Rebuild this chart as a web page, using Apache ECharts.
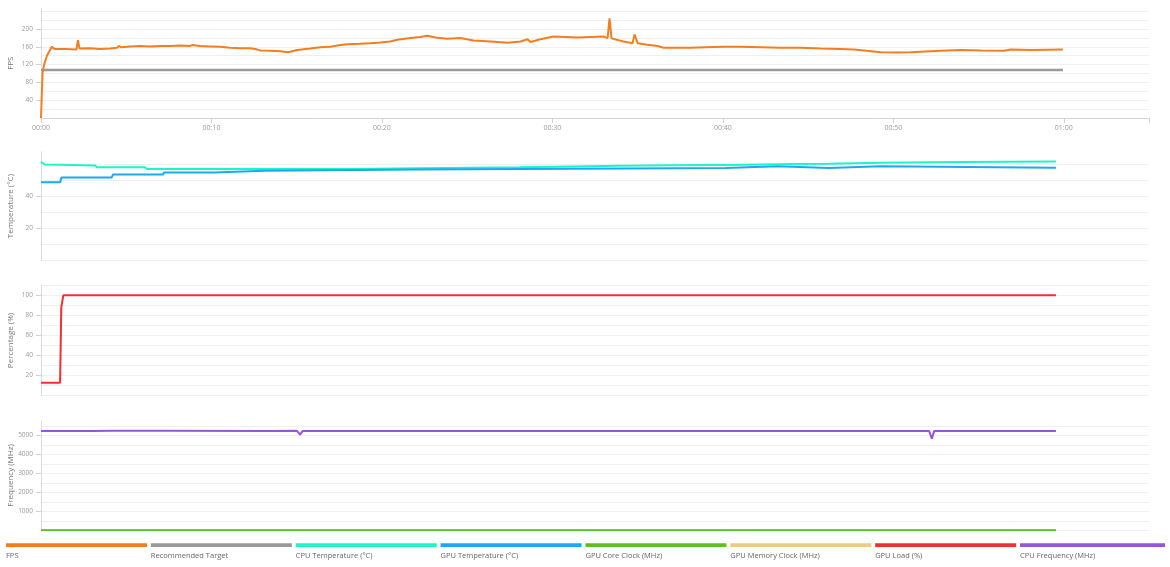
<!DOCTYPE html>
<html><head><meta charset="utf-8">
<script src="https://cdn.jsdelivr.net/npm/echarts@6/dist/echarts.min.js"></script>
<style>html,body{margin:0;padding:0;background:#fff}#c{width:1170px;height:567px}</style>
</head><body><div id="c"></div>
<script>
// ---- data (time in minutes, value) ----
const legendNames = ['FPS','Recommended Target','CPU Temperature (°C)','GPU Temperature (°C)','GPU Core Clock (MHz)','GPU Memory Clock (MHz)','GPU Load (%)','CPU Frequency (MHz)'];
const xTickLabels = ['00:00','00:10','00:20','00:30','00:40','00:50','01:00'];
const fpsTickLabels = [40,80,120,160,200];
const tempTickLabels = [20,40];
const pctTickLabels = [20,40,60,80,100];
const freqTickLabels = [1000,2000,3000,4000,5000];

const fpsData = [[0,0],[0.09,101],[0.19,121],[0.35,140],[0.63,160],[0.82,155],[1.41,155],[2.08,154],[2.17,175],[2.26,156],[2.88,157],[3.46,155],[4.05,156],[4.46,158],[4.58,162],[4.7,159],[5.23,161],[5.81,162],[6.4,161],[6.99,162],[7.57,162],[8.16,163],[8.75,162],[8.87,164],[9.34,162],[9.92,161],[10.51,160],[11.1,158],[11.69,157],[12.27,157],[12.57,155],[12.86,152],[13.45,151],[14.03,150],[14.5,148],[15.03,153],[15.79,156],[16.38,159],[16.97,160],[17.56,164],[17.97,166],[18.73,167],[19.32,168],[19.91,170],[20.49,172],[20.9,176],[21.67,180],[22.25,182],[22.66,185],[23.14,181],[23.84,178],[24.6,180],[25.37,174],[26.37,172],[27.36,169],[28.13,172],[28.54,177],[28.71,171],[29.3,177],[30.06,183],[30.77,182],[31.47,181],[32.24,182],[33.0,183],[33.24,180],[33.35,224],[33.47,179],[34.17,172],[34.7,168],[34.82,188],[35.0,168],[35.47,165],[36.17,162],[36.52,158],[37.52,158],[38.11,158],[38.99,159],[40.05,160],[41.04,160],[42.22,159],[43.39,158],[44.57,158],[45.74,156],[46.92,155],[47.68,154],[48.44,151],[49.27,148],[50.26,147],[51.03,148],[51.61,149],[52.79,151],[53.96,153],[55.14,152],[56.49,151],[56.9,154],[58.07,153],[59.95,154]];
const targetData = [[0,108],[59.95,108]];
const cpuTempData = [[0,61.7],[0.23,60.1],[1.17,60.0],[1.23,59.5],[3.17,59.5],[3.29,58.3],[6.1,58.3],[6.22,57.3],[18.1,57.3],[18.2,57.7],[22.2,57.8],[22.3,58.2],[28.1,58.3],[28.2,59.0],[34,59.3],[38.7,59.7],[40.16,59.8],[40.22,60.2],[43.22,60.2],[43.28,60.6],[46.21,60.6],[46.27,61.1],[49.27,61.2],[49.32,61.5],[54,61.7],[59.54,61.9]];
const gpuTempData = [[0,48.9],[1.12,48.9],[1.2,52.0],[4.15,52.0],[4.22,53.8],[7.16,53.8],[7.22,55.1],[10.16,55.1],[10.22,56.1],[13.1,56.1],[13.2,57.0],[22.14,57.0],[22.2,57.9],[40.16,57.9],[40.22,59.0],[43.22,59.0],[43.28,57.9],[46.21,57.9],[46.27,59.0],[49.27,59.0],[49.33,58.0],[59.54,58.0]];
const gpuCoreClockData = [[0,0],[59.54,0]];
const gpuMemClockData = [[0,0],[59.54,0]];
const gpuLoadData = [[0,13],[1.12,13],[1.19,88],[1.31,100],[59.54,100]];
const cpuFreqData = [[0,5245],[3.0,5245],[4.2,5258],[7.2,5258],[7.3,5245],[13.2,5245],[13.3,5258],[15.0,5258],[15.2,5050],[15.35,5245],[22.1,5245],[22.2,5175],[22.3,5245],[52.1,5245],[52.26,4840],[52.4,5245],[59.54,5245]];

// ---- styles ----
const colors = ['#f47d20','#9a9a9a','#1cf5c6','#1da8f3','#5cbf26','#ebcb85','#ee3030','#9656d6'];
const FONT = '"Open Sans", sans-serif';
const gridBoxes = [{top:8.4,height:109.6},{top:151.7,height:108.8},{top:285.3,height:110.4},{top:420.7,height:109.6}];
const maxOf = arrs => Math.max(...arrs.flat().map(p => p[1])) * 1.1;

const chart = echarts.init(document.getElementById('c'), null, {renderer:'canvas'});

function yAxesFor(g, max, step, labels, name) {
  return [
    {type:'value', gridIndex:g, min:0, max:max, interval:step, position:'left',
     axisLine:{show:false}, axisTick:{show:false}, axisLabel:{show:false},
     splitLine:{show:true, showMaxLine:false, lineStyle:{color:'#efefef', width:1}}},
    {type:'value', gridIndex:g, min:0, max:max, position:'left',
     name:name, nameLocation:'middle', nameGap:26, nameRotate:90, nameMoveOverlap:false,
     nameTextStyle:{fontFamily:FONT, fontSize:8, color:'#777'},
     axisLine:{show:true, lineStyle:{color:'#dcdcdc', width:1}},
     axisTick:{show:true, customValues:labels, length:5, lineStyle:{color:'#cfcfcf'}},
     axisLabel:{customValues:labels, fontFamily:FONT, fontSize:6.5, color:'#999', margin:8,
       formatter: v => String(v)},
     splitLine:{show:false}}
  ];
}

const yAxes = [].concat(
  yAxesFor(0, maxOf([fpsData,targetData]), 20, fpsTickLabels, 'FPS'),
  yAxesFor(1, maxOf([cpuTempData,gpuTempData]), 10, tempTickLabels, 'Temperature (°C)'),
  yAxesFor(2, maxOf([gpuLoadData]), 10, pctTickLabels, 'Percentage (%)'),
  yAxesFor(3, maxOf([cpuFreqData,gpuCoreClockData,gpuMemClockData]), 500, freqTickLabels, 'Frequency (MHz)')
);

const xAxes = gridBoxes.map((b, g) => ({
  type:'value', gridIndex:g, min:0, max:65, interval:10,
  show: g === 0,
  axisLine:{show:true, lineStyle:{color:'#d3d3d3'}},
  axisTick:{show:true, length:5, lineStyle:{color:'#d3d3d3'}},
  axisLabel:{fontFamily:FONT, fontSize:7, color:'#999', margin:6,
    formatter: v => (v % 10 === 0 && xTickLabels[v/10]) ? xTickLabels[v/10] : ''},
  splitLine:{show:false}
}));

function line(name, data, g, color, width, z) {
  return {name, type:'line', data, xAxisIndex:g, yAxisIndex:g*2, showSymbol:false, symbol:'none',
    lineStyle:{color, width}, itemStyle:{color}, z:z||2, animation:false, silent:true};
}

const series = [
  line(legendNames[1], targetData, 0, colors[1], 2.5, 1),
  line(legendNames[0], fpsData, 0, colors[0], 2, 2),
  line(legendNames[2], cpuTempData, 1, colors[2], 2, 2),
  line(legendNames[3], gpuTempData, 1, colors[3], 2, 3),
  line(legendNames[5], gpuMemClockData, 3, colors[5], 2, 1),
  line(legendNames[4], gpuCoreClockData, 3, colors[4], 2, 2),
  line(legendNames[6], gpuLoadData, 2, colors[6], 2, 2),
  line(legendNames[7], cpuFreqData, 3, colors[7], 2, 3)
];

// custom legend: colored bar with text beneath
const legendGraphics = [];
const slot = 144.86, barW = 141, x0 = 6;
legendNames.forEach((n, i) => {
  const x = x0 + i * slot;
  const w = i === legendNames.length - 1 ? barW + 4 : barW;
  legendGraphics.push({type:'rect', shape:{x:x, y:543.3, width:w, height:3.8}, style:{fill:colors[i]}, silent:true});
  legendGraphics.push({type:'text', x:x, y:555.5, style:{text:n, fill:'#666', fontFamily:FONT, fontSize:7.5, verticalAlign:'middle', align:'left'}, silent:true});
});

chart.setOption({
  animation:false,
  backgroundColor:'#fff',
  grid: gridBoxes.map(b => ({left:41, right:21, top:b.top, height:b.height, containLabel:false, outerBoundsMode:'none'})),
  xAxis: xAxes,
  yAxis: yAxes,
  series: series,
  graphic: legendGraphics
});
</script></body></html>
